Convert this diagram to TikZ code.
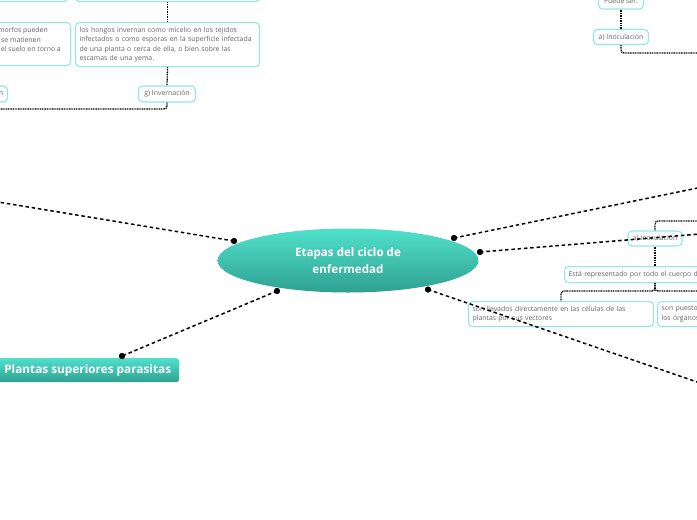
\documentclass[tikz,border=0pt]{standalone}
\usepackage{fontspec}
\setmainfont{Open Sans}
\usetikzlibrary{shapes.geometric}
\definecolor{tealtop}{HTML}{50E0CA}
\definecolor{tealbot}{HTML}{2FA191}
\definecolor{boxc}{HTML}{8EEBDF}
\definecolor{txtc}{HTML}{666666}
\begin{document}
\begin{tikzpicture}[x=1pt,y=-1pt,
  box/.style={draw=boxc, line width=1.1pt, rounded corners=4pt, fill=white, inner xsep=4pt, inner ysep=0pt, font=\fontsize{6.9}{9.5}\selectfont, text=txtc},
  smalltxt/.style={font=\fontsize{6.9}{9.5}\selectfont, text=txtc, inner sep=0pt},
  mainline/.style={draw=black, line width=1.5pt, dash pattern=on 3.5pt off 2.8pt},
  subline/.style={draw=black, line width=1.3pt, dash pattern=on 1pt off 0.7pt, rounded corners=3pt},
  dotc/.style={circle, fill=black, inner sep=0pt, minimum size=6pt},
  mainnode/.style={top color=tealtop, bottom color=tealbot, text=white, align=center}]
\useasboundingbox (0,0) rectangle (697,520);
\fill[white] (0,0) rectangle (697,520);
\clip (0,0) rectangle (697,520);

% ---------- top left ----------
\node[box, anchor=north west, minimum width=184pt, minimum height=30pt] (top1) at (-117,-29) {};
\node[box, anchor=north west, minimum width=184pt, minimum height=30pt] (top2) at (75,-29) {};
\node[box, anchor=north west, minimum width=184pt, minimum height=43pt] (b1) at (-114,22) {};
\node[smalltxt, anchor=base east] (b1l1) at (48,32.5) {morfos pueden};
\node[smalltxt, anchor=base east] (b1l2) at (41,42) {e se matienen};
\node[smalltxt, anchor=base east] (b1l3) at (61,51.5) {el suelo en torno a};
\node[box, anchor=north west, minimum width=184pt, minimum height=44pt, text width=176pt, align=left] (hongos) at (75,22)
  {los hongos invernan como micelio en los tejidos\\infectados o como esporas en la superficie infectada\\de una planta o cerca de ella, o bien sobre las\\escamas de una yema.};
\node[box, anchor=center, minimum width=57pt, minimum height=16pt, align=center] (ginv) at (167,94) {g) Invernación};
\node[box, anchor=east, minimum width=60pt, minimum height=16pt, text width=52pt, align=right] (nbox) at (8,94) {n};
\coordinate (gL) at (-2,109);
\draw[subline] (top2.south) -- (hongos.north);
\draw[subline] (hongos.south) -- (ginv.north);
\draw[subline] (ginv.south) |- (gL);

% ---------- top right ----------
\node[box, anchor=center, minimum width=45pt, minimum height=16pt] (puede) at (621,1) {Puede ser:};
\node[box, anchor=center, minimum width=55pt, minimum height=15pt] (inoc1) at (621,37) {a) Inoculación};
\coordinate (inoc1R) at (700,53);
\draw[subline] (puede.south) -- (inoc1.north);
\draw[subline] (inoc1.south) |- (inoc1R);

% ---------- right middle ----------
\node[box, anchor=center, minimum width=54pt, minimum height=15pt] (inoc2) at (655,238.5) {a) Inoculación};
\node[box, anchor=north west, minimum height=16pt, minimum width=180pt, text width=172pt, align=left] (esta) at (564,266) {Está representado por todo el cuerpo del};
\node[box, anchor=north west, minimum width=185pt, minimum height=25pt, text width=177pt, align=left] (llev) at (468,301)
  {son llevados directamente en las células de las\\plantas por sus vectores};
\node[box, anchor=north west, minimum width=185pt, minimum height=25pt, text width=177pt, align=left] (puest) at (657,301)
  {son puestos\\los órganos};
\coordinate (inoc2T) at (700,221);
\coordinate (brR) at (700,291);
\draw[subline] (inoc2.north) |- (inoc2T);
\draw[subline] (inoc2.south) -- (inoc2.south |- esta.north);
\draw[subline] (inoc2.south |- esta.south) |- (brR);
\draw[subline] (inoc2.south |- esta.south) -- (655,291) -| (llev.north);

% ---------- central ----------
\node[ellipse, mainnode, font=\bfseries\fontsize{11.6}{16.5}\selectfont, minimum width=261pt, minimum height=64pt, inner sep=0pt] (center) at (348,260.5) {Etapas del ciclo de\\enfermedad};
\node[mainnode, font=\bfseries\fontsize{11.8}{14}\selectfont, rectangle, rounded corners=3pt, anchor=north west, minimum width=183pt, minimum height=24pt, inner sep=0pt] (plantas) at (-4,358) {Plantas superiores parasitas};

% ---------- main connectors ----------
\node[dotc] (d1) at (234,241) {};
\node[dotc] (d2) at (454,238) {};
\node[dotc] (d3) at (480,252) {};
\node[dotc] (d4) at (277,291) {};
\node[dotc] (d5) at (428,289.5) {};
\node[dotc] (d6) at (122,356) {};
\coordinate (eL) at (-2,202);
\coordinate (eUR) at (700,187.5);
\coordinate (eR) at (700,234);
\coordinate (eBR) at (700,383);
\draw[mainline] (d1.center) -- (eL);
\draw[mainline] (d2.center) -- (eUR);
\draw[mainline] (d3.center) -- (eR);
\draw[mainline] (d4.center) -- (d6.center);
\draw[mainline] (d5.center) -- (eBR);
\foreach \d in {d1,d2,d3,d4,d5,d6} \fill (\d) circle (3pt);
\end{tikzpicture}
\end{document}
